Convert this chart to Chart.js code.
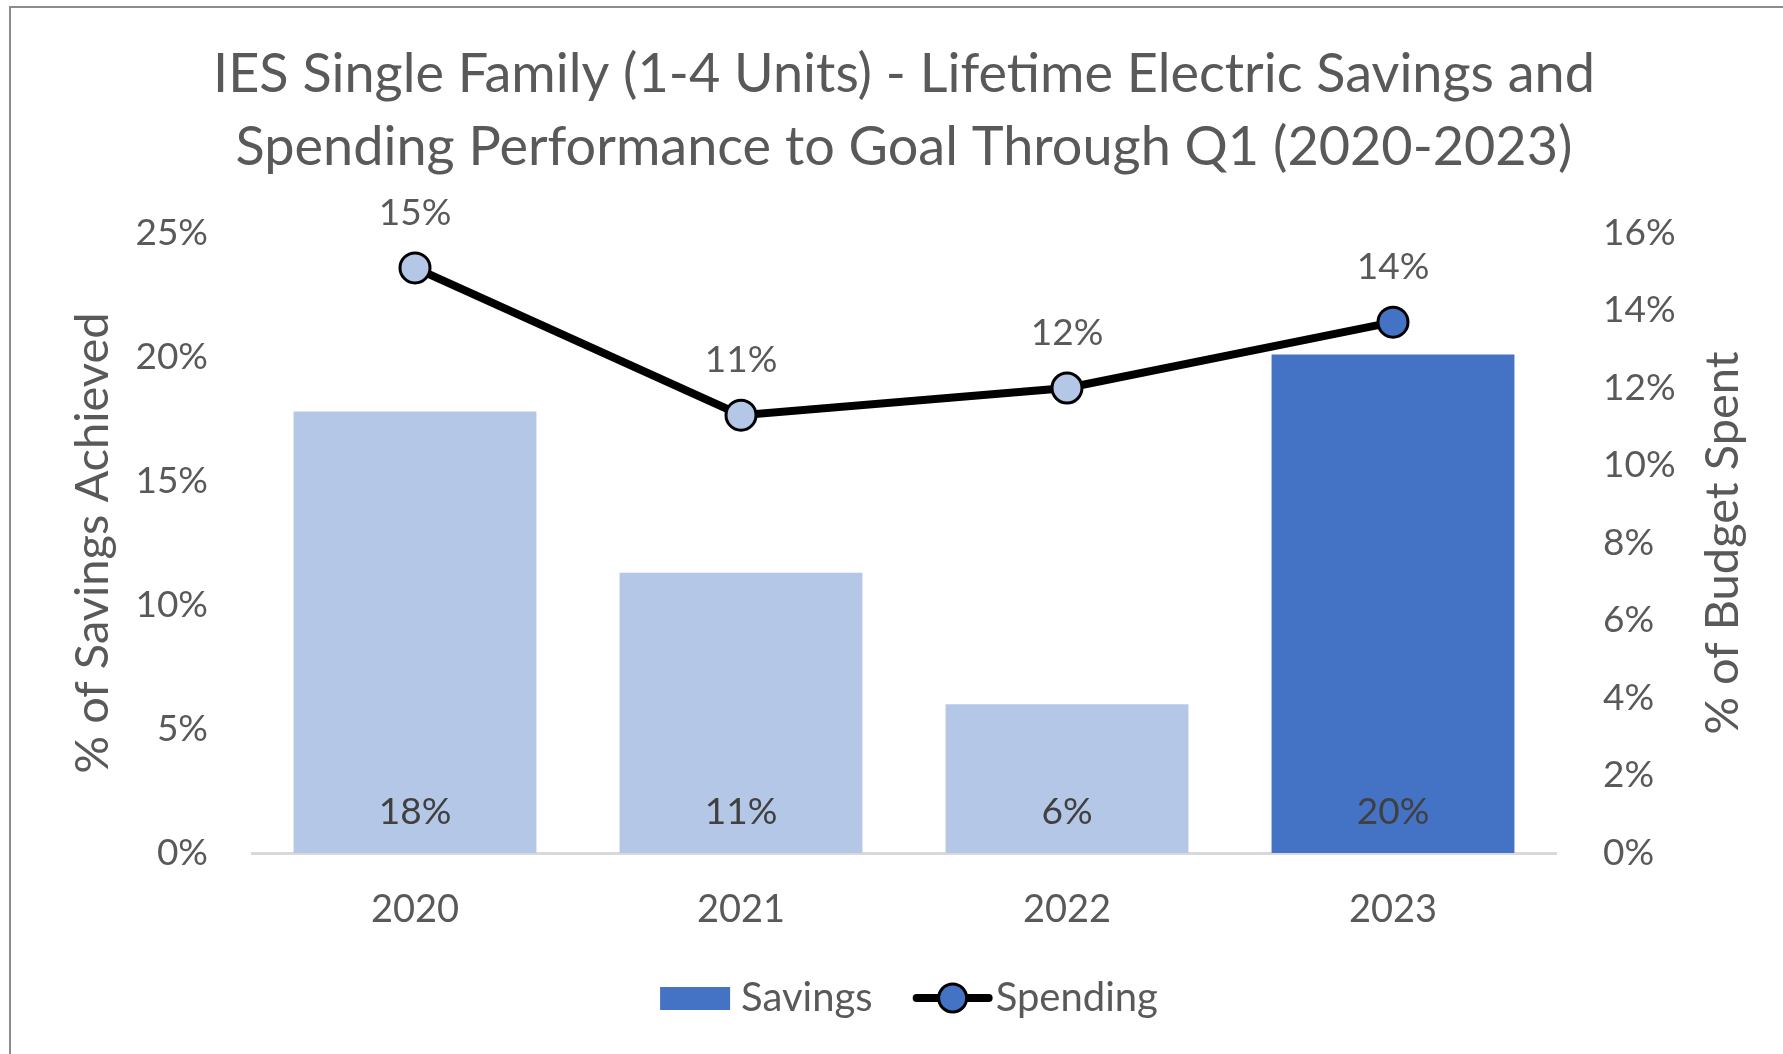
<!DOCTYPE html>
<html>
<head>
<meta charset="utf-8">
<script src="https://cdn.jsdelivr.net/npm/chart.js@4"></script>
<style>
  html, body { margin: 0; padding: 0; background: #ffffff; }
  #wrap { width: 1783px; height: 1054px; position: relative; }
</style>
</head>
<body>
<div id="wrap"><canvas id="chart" width="1783" height="1054"></canvas></div>
<script>
// Program years and performance figures (percent of goal)
const years = ['2020', '2021', '2022', '2023'];
const savingsPct = [17.8, 11.3, 6.0, 20.1];     // % of lifetime savings achieved
const spendingPct = [15.1, 11.3, 12.0, 13.7];   // % of budget spent

// Axis tick values
const savingsTicks = [0, 5, 10, 15, 20, 25];
const budgetTicks = [0, 2, 4, 6, 8, 10, 12, 14, 16];

const titleLines = [
  'IES Single Family (1-4 Units) - Lifetime Electric Savings and',
  'Spending Performance to Goal Through Q1 (2020-2023)'
];
const leftAxisTitle = '% of Savings Achieved';
const rightAxisTitle = '% of Budget Spent';

const FONT = 'Lato, "Open Sans", sans-serif';
const TEXT = '#595959';
const LIGHT = '#B4C7E7';
const DARK = '#4472C4';

const pct = v => Math.round(v) + '%';

const decorations = {
  id: 'decorations',
  beforeDraw(chart) {
    const { ctx, width, height } = chart;
    ctx.save();
    ctx.fillStyle = '#ffffff';
    ctx.fillRect(0, 0, width, height);
    // chart frame
    ctx.strokeStyle = '#8C8C8C';
    ctx.lineWidth = 2;
    ctx.beginPath();
    ctx.moveTo(10, height);
    ctx.lineTo(10, 7);
    ctx.lineTo(width, 7);
    ctx.stroke();
    ctx.restore();
  },
  afterDatasetsDraw(chart) {
    const { ctx, chartArea } = chart;
    ctx.save();
    ctx.textAlign = 'center';
    ctx.textBaseline = 'middle';
    ctx.font = '37px ' + FONT;
    // value labels inside the base of each bar
    const barMeta = chart.getDatasetMeta(1);
    barMeta.data.forEach((bar, i) => {
      ctx.fillStyle = '#404040';
      ctx.fillText(pct(savingsPct[i]), bar.x, chartArea.bottom - 41);
    });
    // value labels above each spending point
    const lineMeta = chart.getDatasetMeta(0);
    lineMeta.data.forEach((pt, i) => {
      ctx.fillStyle = TEXT;
      ctx.fillText(pct(spendingPct[i]), pt.x, pt.y - 55);
    });
    ctx.restore();
  },
  afterDraw(chart) {
    const { ctx, chartArea } = chart;
    const cx = (chartArea.left + chartArea.right) / 2;
    const cy = (chartArea.top + chartArea.bottom) / 2;
    ctx.save();
    ctx.fillStyle = TEXT;
    ctx.textAlign = 'center';
    ctx.textBaseline = 'middle';

    // chart title
    ctx.font = '54px ' + FONT;
    ctx.fillText(titleLines[0], cx, 75);
    ctx.fillText(titleLines[1], cx, 148);

    // axis titles, both reading bottom to top
    ctx.font = '47px ' + FONT;
    ctx.save();
    ctx.translate(93, cy);
    ctx.rotate(-Math.PI / 2);
    ctx.fillText(leftAxisTitle, 0, 0);
    ctx.restore();
    ctx.save();
    ctx.translate(1723, cy);
    ctx.rotate(-Math.PI / 2);
    ctx.fillText(rightAxisTitle, 0, 0);
    ctx.restore();

    // legend
    ctx.font = '40px ' + FONT;
    ctx.textAlign = 'left';
    const wSav = ctx.measureText('Savings').width;
    const wSpd = ctx.measureText('Spending').width;
    const total = 70 + 11 + wSav + 40 + 80 + 3 + wSpd;
    let x = cx + 5 - total / 2;
    const ly = 998;
    ctx.fillStyle = DARK;
    ctx.fillRect(x, ly - 11, 70, 23);
    x += 81;
    ctx.fillStyle = TEXT;
    ctx.fillText('Savings', x, ly);
    x += wSav + 40;
    ctx.strokeStyle = '#000000';
    ctx.lineWidth = 8;
    ctx.lineCap = 'round';
    ctx.beginPath();
    ctx.moveTo(x + 4, ly);
    ctx.lineTo(x + 76, ly);
    ctx.stroke();
    ctx.beginPath();
    ctx.arc(x + 40, ly, 14, 0, Math.PI * 2);
    ctx.fillStyle = DARK;
    ctx.fill();
    ctx.lineWidth = 3;
    ctx.stroke();
    x += 83;
    ctx.fillStyle = TEXT;
    ctx.fillText('Spending', x, ly);
    ctx.restore();
  }
};

new Chart(document.getElementById('chart'), {
  data: {
    labels: years,
    datasets: [
      {
        type: 'line',
        label: 'Spending',
        data: spendingPct,
        yAxisID: 'y1',
        order: 0,
        borderColor: '#000000',
        borderWidth: 8,
        pointRadius: 15,
        pointBorderWidth: 3,
        pointBorderColor: '#000000',
        pointBackgroundColor: [LIGHT, LIGHT, LIGHT, DARK],
        tension: 0
      },
      {
        type: 'bar',
        label: 'Savings',
        data: savingsPct,
        yAxisID: 'y',
        order: 1,
        backgroundColor: [LIGHT, LIGHT, LIGHT, DARK],
        categoryPercentage: 1,
        barPercentage: 0.745
      }
    ]
  },
  options: {
    responsive: false,
    devicePixelRatio: 1,
    animation: false,
    layout: { padding: { left: 10, right: 0, top: 233, bottom: 0 } },
    plugins: {
      legend: { display: false },
      title: { display: false },
      tooltip: { enabled: false }
    },
    scales: {
      x: {
        grid: { display: false, drawTicks: false },
        border: { display: true, color: '#D9D9D9', width: 3 },
        ticks: { color: TEXT, font: { family: FONT, size: 38 }, padding: 34 },
        afterFit(s) { s.height = 201; }
      },
      y: {
        position: 'left',
        min: 0,
        max: 25,
        grid: { display: false, drawTicks: false },
        border: { display: false },
        afterBuildTicks(s) { s.ticks = savingsTicks.map(v => ({ value: v })); },
        ticks: { color: TEXT, font: { family: FONT, size: 37 }, padding: 44, callback: v => v + '%' },
        afterFit(s) { s.width = 242; }
      },
      y1: {
        position: 'right',
        min: 0,
        max: 16,
        grid: { display: false, drawTicks: false },
        border: { display: false },
        afterBuildTicks(s) { s.ticks = budgetTicks.map(v => ({ value: v })); },
        ticks: { color: TEXT, font: { family: FONT, size: 37 }, padding: 47, callback: v => v + '%' },
        afterFit(s) { s.width = 227; }
      }
    }
  },
  plugins: [decorations]
});
</script>
</body>
</html>
